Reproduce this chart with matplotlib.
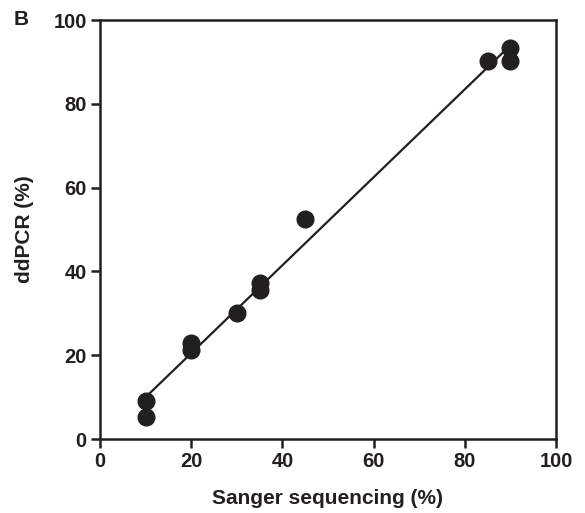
import numpy as np
import matplotlib
matplotlib.use("Agg")
import matplotlib.pyplot as plt

plt.rcParams['font.family'] = ['Liberation Sans', 'DejaVu Sans']

sanger = [10, 10, 20, 20, 30, 35, 35, 45, 85, 90, 90]
ddpcr = [9.1, 5.2, 22.8, 21.2, 30.1, 37.2, 35.6, 52.5, 90.3, 93.3, 90.3]
ticks = [0, 20, 40, 60, 80, 100]

fig = plt.figure(figsize=(5.85, 5.13), dpi=100)
ax = fig.add_axes([0.1709, 0.1442, 0.7795, 0.8168])

slope, intercept = np.polyfit(sanger, ddpcr, 1)
xl = np.array([min(sanger), max(sanger)])
ax.plot(xl, slope * xl + intercept, color='#231f20', lw=1.6, zorder=2)
ax.plot(sanger, ddpcr, 'o', color='#231f20', ms=12, zorder=3)

ax.set_xlim(0, 100)
ax.set_ylim(0, 100)
ax.set_xticks(ticks)
ax.set_yticks(ticks)
for s in ax.spines.values():
    s.set_linewidth(1.8)
    s.set_color('#231f20')
ax.tick_params(direction='out', length=6.5, width=1.8, labelsize=14.5, colors='#231f20', pad=3)
for lab in ax.get_xticklabels() + ax.get_yticklabels():
    lab.set_fontweight('bold')
ax.set_xlabel('Sanger sequencing (%)', fontsize=15, fontweight='bold', color='#231f20', labelpad=13)
ax.set_ylabel('ddPCR (%)', fontsize=15, fontweight='bold', color='#231f20', labelpad=14)
fig.text(0.024, 0.962, 'B', fontsize=15, fontweight='bold', color='#231f20', ha='left', va='center')

fig.savefig('out.png', dpi=100)
